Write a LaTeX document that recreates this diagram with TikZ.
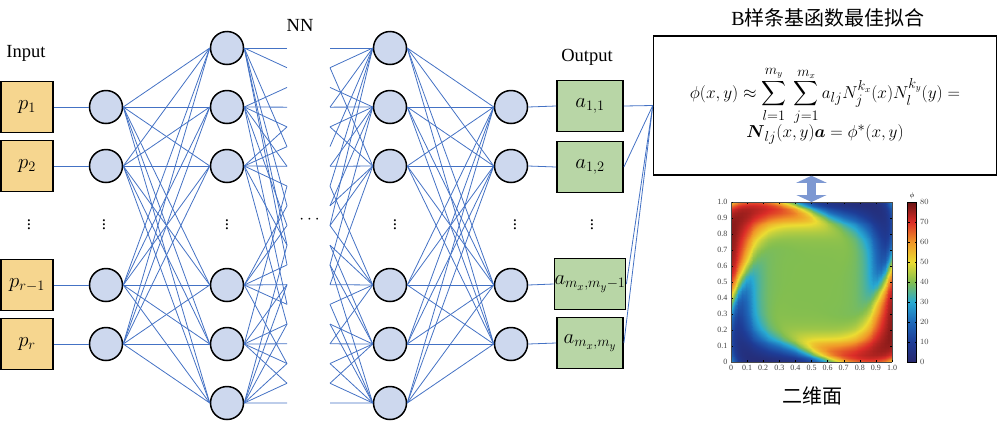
\documentclass[tikz,border=0pt]{standalone}
\usepackage{amsmath}
\usepackage{fontspec}
\setmainfont{Liberation Serif}
\newfontfamily\cjk{Noto Sans CJK SC}
\usepackage{pgfplots}
\pgfplotsset{compat=1.18}
\usetikzlibrary{arrows.meta, positioning, calc}

\definecolor{nfill}{RGB}{205,216,238}
\definecolor{infill}{RGB}{246,214,143}
\definecolor{outfill}{RGB}{184,214,166}
\definecolor{linkblue}{RGB}{68,114,196}
\definecolor{arrowblue}{RGB}{125,152,210}
\newcommand\bigmath{\fontsize{21}{21}\selectfont}
\pgfplotsset{colormap={phimap}{rgb255=(40,40,110) rgb255=(30,60,150) rgb255=(30,105,185)
  rgb255=(40,170,210) rgb255=(130,190,80) rgb255=(235,220,50) rgb255=(240,150,40)
  rgb255=(220,45,40) rgb255=(105,20,20)}}

\begin{document}
\begin{tikzpicture}[
  x=1pt, y=-1pt,
  neuron/.style = {circle, draw, line width=1.5pt, fill=nfill, minimum size=33pt, inner sep=0pt},
  inbox/.style = {draw, line width=1.8pt, fill=infill, minimum width=52pt, minimum height=51pt, inner sep=0pt, font=\bigmath},
  outbox/.style = {inbox, fill=outfill, minimum width=66pt},
  conn/.style = {linkblue, line width=0.8pt},
  lbl/.style = {font=\fontsize{18.5}{18.5}\selectfont},
  cjklbl/.style = {font=\fontsize{20}{20}\selectfont\cjk},
  dots/.style = {font=\fontsize{17}{17}\selectfont}
]
\useasboundingbox (0,0) rectangle (1000,421);

% Input column
\node[lbl] (inlabel) at (26,53) {Input};
\foreach \i/\y/\lab in {1/107/p_1, 2/166/p_2, 3/285/p_{r-1}, 4/344/p_r}
  \node[inbox] (p\i) at (27,\y) {$\lab$};

% Neurons
\foreach \i/\y in {1/107, 2/166, 3/285, 4/344} {
  \node[neuron] (h1-\i) at (106,\y) {};
  \node[neuron] (h4-\i) at (511,\y) {};
}
\foreach \i/\y in {1/48, 2/107, 3/166, 4/285, 5/344, 6/403} {
  \node[neuron] (h2-\i) at (227,\y) {};
  \node[neuron] (h3-\i) at (390,\y) {};
}

% Output column
\node[lbl] (outlabel) at (587,57) {Output};
\foreach \i/\y/\lab in {1/106/{a_{1,1}}, 2/167/{a_{1,2}}, 3/284/{a_{m_x,m_y-1}}, 4/343/{a_{m_x,m_y}}}
  \node[outbox] (a\i) at (590,\y) {$\lab$};

% free ends around the NN gap
\foreach \k in {0,...,18} {
  \coordinate (L\k) at (287,48+19.72*\k);
  \coordinate (R\k) at (330,48+19.72*\k);
}

% Links
\foreach \i in {1,...,4} {
  \draw[conn] (p\i.east) -- (h1-\i.west);
  \draw[conn] (h4-\i.east) -- (a\i.west);
  \foreach \j in {1,...,6} {
    \draw[conn] (h1-\i.east) -- (h2-\j.west);
    \draw[conn] (h3-\j.east) -- (h4-\i.west);
  }
}
\foreach \n/\ends in {1/{0,1,5,8,10,11}, 2/{2,3,4,6,9,13}, 3/{4,5,6,7,10,14},
                      4/{8,9,11,12,13,16}, 5/{7,12,14,15,16,17}, 6/{10,12,14,16,17,18}}
  \foreach \t in \ends
    \draw[conn] (h2-\n.east) -- (L\t);
\foreach \n/\ends in {1/{0,1,3,5,7,9}, 2/{2,3,4,6,8,11}, 3/{1,4,6,8,9,12},
                      4/{7,9,10,12,13,15}, 5/{10,11,14,15,16,17}, 6/{11,13,14,16,17,18}}
  \foreach \t in \ends
    \draw[conn] (R\t) -- (h3-\n.west);

% Dots
\node[lbl] (nnlabel) at (300,25) {NN};
\foreach \x [count=\c] in {29,104,227,395,515,592}
  \node[dots] (vd\c) at (\x,222) {$\vdots$};
\node[dots] (hd) at (311,220) {$\cdots$};

% Basis fitting box
\node[cjklbl] (title) at (828,18) {{\rmfamily B}样条基函数最佳拟合};
\node[draw, line width=1.5pt, fill=white, minimum width=343pt, minimum height=139pt,
      align=center, font=\fontsize{19}{19}\selectfont] (basis) at (825,105.5) {
  $\displaystyle \phi(x,y)\approx\sum_{l=1}^{m_y}\;\sum_{j=1}^{m_x} a_{lj}N_j^{k_x}(x)N_l^{k_y}(y)=$\\[-1pt]
  $\boldsymbol{N}_{lj}(x,y)\boldsymbol{a}=\phi^*(x,y)$
};
\foreach \i in {1,...,4}
  \draw[conn] (a\i.east) -- (basis.west);

% Heat map
\coordinate (mapsw) at (731,362);
\begin{axis}[
  name=map, at={(mapsw)}, anchor=south west,
  scale only axis, width=161pt, height=160pt,
  view={0}{90}, xmin=0, xmax=1, ymin=0, ymax=1,
  colormap name=phimap, point meta min=0, point meta max=80,
  xtick={0,0.1,0.2,0.3,0.4,0.5,0.6,0.7,0.8,0.9,1},
  ytick={0,0.1,0.2,0.3,0.4,0.5,0.6,0.7,0.8,0.9,1},
  xticklabels={0,0.1,0.2,0.3,0.4,0.5,0.6,0.7,0.8,0.9,1.0},
  yticklabels={0,0.1,0.2,0.3,0.4,0.5,0.6,0.7,0.8,0.9,1.0},
  ticklabel style={font=\fontsize{8}{8}\selectfont, text=black!75},
  tick style={black, thin}, major tick length=2pt,
  axis line style={thin, black!70},
  colorbar,
  colorbar style={at={(parent axis.north east)}, anchor=north west, xshift=7pt, width=9pt,
    ytick={0,10,...,80}, major tick length=2pt,
    yticklabel style={font=\fontsize{8}{8}\selectfont, text=black!75},
    title={$\phi$}, title style={font=\fontsize{7}{7}\selectfont, yshift=-6pt}},
  declare function={
    rr(\x,\y)=2*sqrt(sqrt(((\x-0.5)*(\x-0.5))*((\x-0.5)*(\x-0.5))+((\y-0.5)*(\y-0.5))*((\y-0.5)*(\y-0.5))));
    amp(\r)=1/(1+exp(-12*(\r-0.8)));
    swirl(\x,\y)=tanh(1.8*cos(2*(atan2(\y-0.5,\x-0.5)-150+130*(1-rr(\x,\y)))))/tanh(1.8);
  }
]
\addplot3[surf, shader=interp, samples=44, domain=0:1, y domain=0:1]
  {max(0,min(80, 40+40*amp(rr(x,y))*swirl(x,y)))};
\end{axis}

% two-way arrow between box and map
\draw[arrowblue, line width=9pt, {Triangle[length=7pt,width=30pt]}-{Triangle[length=7pt,width=30pt]}]
  (map.north |- basis.south) -- (map.north);
\node[cjklbl] (maplabel) at (812,396) {二维面};

\end{tikzpicture}
\end{document}
